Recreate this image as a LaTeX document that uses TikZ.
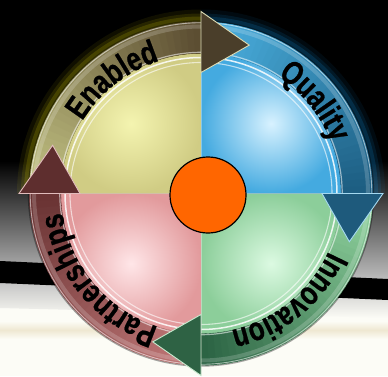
\documentclass[tikz,border=0pt]{standalone}
\usepackage{fontspec}
\newfontfamily\labfont{Liberation Sans}[FakeStretch=0.78, FakeBold=0.8]
\usetikzlibrary{decorations.text}
\definecolor{bgGrey}{HTML}{C4C4C4}
\definecolor{offW}{HTML}{FCFCF6}
\definecolor{beigeC}{HTML}{EFE8D2}
\definecolor{tlIn}{HTML}{F4F4B0}\definecolor{tlOut}{HTML}{D0CC84}
\definecolor{trIn}{HTML}{D8F2FF}\definecolor{trOut}{HTML}{44AAE0}
\definecolor{brIn}{HTML}{DCFAE2}\definecolor{brOut}{HTML}{8CCE9A}
\definecolor{blIn}{HTML}{FFE6E8}\definecolor{blOut}{HTML}{E29A9C}
\definecolor{enA}{HTML}{C4C484}\definecolor{enB}{HTML}{5C4E32}
\definecolor{quA}{HTML}{4CB2E2}\definecolor{quB}{HTML}{1D5E82}
\definecolor{inA}{HTML}{92D6A0}\definecolor{inB}{HTML}{2C6444}
\definecolor{paA}{HTML}{C47A7A}\definecolor{paB}{HTML}{6A3434}
\definecolor{enH}{HTML}{4A3E2A}\definecolor{quH}{HTML}{1E5A7C}
\definecolor{inH}{HTML}{2E6244}\definecolor{paH}{HTML}{5E2E2E}
\definecolor{orangeC}{HTML}{FF6600}
\newcommand\ringband[4]{%
  \foreach \k in {0,...,35}{%
    \pgfmathsetmacro\aa{#1+(#2-#1)*\k/36}%
    \pgfmathsetmacro\ab{#1+(#2-#1)*(\k+1.4)/36}%
    \pgfmathtruncatemacro\pp{100-100*\k/35}%
    \fill[#3!\pp!#4] (\aa:172) arc[start angle=\aa,end angle=\ab,radius=172]
      -- (\ab:140) arc[start angle=\ab,end angle=\aa,radius=140] -- cycle;
  }}
\newcommand\arrhead[3]{%
  \pgfmathsetmacro\tipa{#1-18}%
  \filldraw[fill=#2, draw=#3, line width=0.9pt, line join=miter]
    (#1:121) -- (\tipa:156) -- (#1:182) -- cycle;}
\begin{document}
\begin{tikzpicture}[x=1pt,y=1pt,
  labeltext/.style={decorate, decoration={text along path, text align=center,
    text={|\labfont\bfseries\fontsize{33}{33}\selectfont|#1}}}]
\useasboundingbox (0,0) rectangle (388,376);
% background
\fill[black] (0,0) rectangle (388,376);
\fill[offW] (0,0) rectangle (388,100);
\shade[top color=black, bottom color=bgGrey] (0,215) rectangle (388,92);
\shade[top color=gray!45, bottom color=offW] (0,93) -- (388,76) -- (388,58) -- (0,68) -- cycle;
\shade[top color=offW, bottom color=offW, middle color=beigeC] (0,37) rectangle (388,55);
\fill[black] (0,115) -- (388,97) -- (388,76) -- (0,93) -- cycle;
\begin{scope}[shift={(201,182.5)}]
  % glow
  \foreach \r/\o in {184/0.08,180/0.12,177/0.18}{
    \fill[cyan!70!blue, opacity=\o] (0,0) -- (0:\r) arc[start angle=0,end angle=90,radius=\r] -- cycle;
    \fill[yellow!60!olive, opacity=\o] (0,0) -- (90:\r) arc[start angle=90,end angle=180,radius=\r] -- cycle;
  }
  % quadrants
  \shade[inner color=tlIn, outer color=tlOut] (0,0) -- (90:140) arc[start angle=90,end angle=180,radius=140] -- cycle;
  \shade[inner color=trIn, outer color=trOut] (0,0) -- (0:140) arc[start angle=0,end angle=90,radius=140] -- cycle;
  \shade[inner color=brIn, outer color=brOut] (0,0) -- (-90:140) arc[start angle=-90,end angle=0,radius=140] -- cycle;
  \shade[inner color=blIn, outer color=blOut] (0,0) -- (180:140) arc[start angle=180,end angle=270,radius=140] -- cycle;
  \draw[white, opacity=0.35, line width=0.8pt] (0,-140) -- (0,140) (-140,0) -- (140,0);
  % white double ring
  \draw[white, opacity=0.85, line width=1.5pt] (0,0) circle (136);
  \draw[white, opacity=0.6, line width=1.1pt] (0,0) circle (131);
  % bands
  \ringband{180}{90}{enA}{enB}
  \ringband{90}{0}{quA}{quB}
  \ringband{0}{-90}{inA}{inB}
  \ringband{270}{180}{paA}{paB}
  % bevel highlights
  \draw[white, opacity=0.18, line width=4pt] (0,0) circle (167);
  \draw[white, opacity=0.55, line width=0.9pt] (0,0) circle (170.8);
  \draw[black, opacity=0.35, line width=1.2pt] (0,0) circle (172.6);
  \draw[white, opacity=0.55, line width=1.2pt] (0,0) circle (141.2);
  % arrow heads
  \arrhead{90}{enH}{enA!60!white}
  \arrhead{0}{quH}{quA!50!white}
  \arrhead{-90}{inH}{inA!50!white}
  \arrhead{180}{paH}{paA!50!white}
  % labels
  \path[labeltext=Enabled] (168:139) arc[start angle=168,end angle=88,radius=139];
  \path[labeltext=Quality] (79:140) arc[start angle=79,end angle=-1,radius=140];
  \path[labeltext=Innovation] (-6:140) arc[start angle=-6,end angle=-96,radius=140];
  \path[labeltext=Partnerships] (265:140) arc[start angle=265,end angle=175,radius=140];
  % hub
  \node[circle, draw=black, line width=1.2pt, fill=orangeC, minimum size=76pt, inner sep=0pt] (hub) at (7,-1.5) {};
\end{scope}
\end{tikzpicture}
\end{document}
